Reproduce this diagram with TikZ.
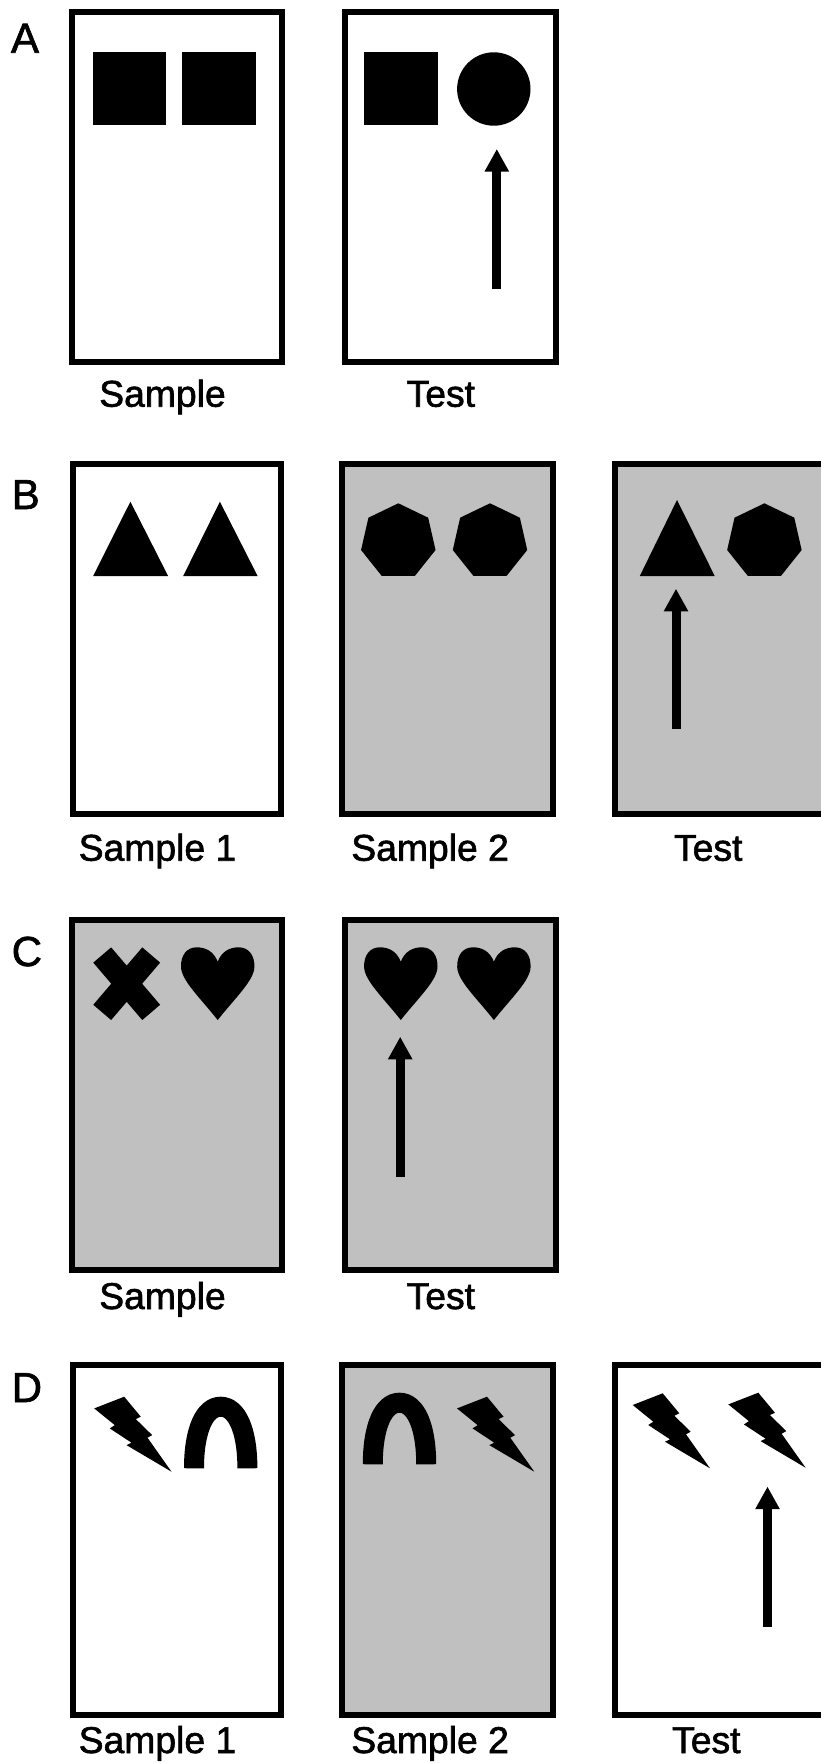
\documentclass[tikz,border=0pt]{standalone}
\usepackage{fontspec}
\setmainfont{Liberation Sans}
\newfontfamily\heavyfont{Liberation Sans}[FakeBold=1.6]
\usetikzlibrary{arrows.meta}
\definecolor{panelgray}{RGB}{192,192,192}
\tikzset{
  card/.style={draw=black, line width=6pt, fill=white},
  greycard/.style={card, fill=panelgray},
  lab/.style={anchor=base, inner sep=0pt, font=\heavyfont\fontsize{37.3}{40}\selectfont},
  panel/.style={anchor=base west, inner sep=0pt, font=\heavyfont\fontsize{42}{46}\selectfont},
  pointer/.style={line width=9pt, -{Triangle[length=22.7pt,width=23pt]}},
  bolt/.pic={\fill (0,11.7) -- (30,0) -- (46.6,20) -- (41.6,22.4) -- (58,38.4) -- (53.3,41)
      -- (77.3,75) -- (32.3,48.4) -- (37.3,46) -- (15.6,31.7) -- (20.6,28.4) -- cycle;},
  heart/.pic={\fill (0,14.4) .. controls (-4,4) and (-12,0) .. (-21,0)
      .. controls (-31,0) and (-37,8) .. (-36.7,19.5)
      .. controls (-36.5,33) and (-18,50) .. (0,72.7)
      .. controls (18,50) and (36.5,33) .. (36.7,19.5)
      .. controls (37,8) and (31,0) .. (21,0)
      .. controls (12,0) and (4,4) .. (0,14.4) -- cycle;},
  arch/.pic={\draw[line width=20pt] (-26.7,71.6) .. controls (-26.7,33) and (-16,10) .. (0,10)
      .. controls (16,10) and (26.7,33) .. (26.7,71.6);},
  hepta/.pic={\fill (-90:38.2) \foreach \k in {1,...,6}{ -- ({-90+\k*360/7}:38.2)} -- cycle;},
  cross/.pic={\draw[line width=23.5pt] (-24.5,-28.7) -- (24.5,28.7) (24.5,-28.7) -- (-24.5,28.7);},
}
\begin{document}
\begin{tikzpicture}[x=1pt,y=-1pt]
\useasboundingbox (0,0) rectangle (821,1763);
\clip (0,0) rectangle (821,1763);

% ---------------- Panel A ----------------
\node[panel] (lA) at (10.8,52.7) {A};
\path[card] (72,12.3) rectangle (282,362);
\path[card] (345,12.3) rectangle (556,362);
\fill (92.6,52.3) rectangle (165.8,125);
\fill (182.3,52.3) rectangle (255.6,125);
\fill (364.3,52.3) rectangle (437.5,125);
\fill (493.8,89) circle[radius=36.7];
\coordinate (aA0) at (496.8,289.3);
\coordinate (aA1) at (496.8,149);
\draw[pointer] (aA0) -- (aA1);
\node[lab] (sA) at (162.5,406.7) {Sample};
\node[lab] (tA) at (440.8,406.7) {Test};

% ---------------- Panel B ----------------
\node[panel] (lB) at (11.5,509) {B};
\path[card] (72.6,463.7) rectangle (281.3,813.7);
\path[greycard] (342.3,463.7) rectangle (553,813.7);
\path[greycard] (614.5,463.7) rectangle (830,813.7);
\fill (130.4,501.7) -- (93.2,576) -- (168.1,576) -- cycle;
\fill (219.9,501.7) -- (183.2,576) -- (257.6,576) -- cycle;
\pic at (398.3,541.5) {hepta};
\pic at (490,541.5) {hepta};
\fill (677,500) -- (639.8,576) -- (714.7,576) -- cycle;
\pic at (764.4,541.5) {hepta};
\coordinate (aB0) at (676,729);
\coordinate (aB1) at (676,588.7);
\draw[pointer] (aB0) -- (aB1);
\node[lab] (s1B) at (157.5,860.7) {Sample 1};
\node[lab] (s2B) at (430.1,860.7) {Sample 2};
\node[lab] (tB) at (708.2,860.7) {Test};

% ---------------- Panel C ----------------
\node[panel] (lC) at (11.5,966) {C};
\path[greycard] (72,919.7) rectangle (282,1269.7);
\path[greycard] (345,919.7) rectangle (556,1269.7);
\pic at (126.7,983.7) {cross};
\pic at (217.7,947.3) {heart};
\pic at (400.8,947.3) {heart};
\pic at (493.9,947.3) {heart};
\coordinate (aC0) at (400.2,1177.3);
\coordinate (aC1) at (400.2,1036.7);
\draw[pointer] (aC0) -- (aC1);
\node[lab] (sC) at (162.5,1309) {Sample};
\node[lab] (tC) at (440.8,1309) {Test};

% ---------------- Panel D ----------------
\node[panel] (lD) at (11.5,1402) {D};
\path[card] (72.6,1364.7) rectangle (281.3,1715.3);
\path[greycard] (342.3,1364.7) rectangle (553,1715.3);
\path[card] (614.5,1364.7) rectangle (830,1715.3);
\pic at (94.2,1396.7) {bolt};
\pic at (220.7,1396.7) {arch};
\pic at (399.5,1392.7) {arch};
\pic at (457,1396.7) {bolt};
\pic at (632.7,1393.3) {bolt};
\pic at (728.3,1392.7) {bolt};
\coordinate (aD0) at (767.5,1626.7);
\coordinate (aD1) at (767.5,1486.5);
\draw[pointer] (aD0) -- (aD1);
\node[lab] (s1D) at (157.5,1753) {Sample 1};
\node[lab] (s2D) at (430.1,1753) {Sample 2};
\node[lab] (tD) at (706.3,1753) {Test};
\end{tikzpicture}
\end{document}
